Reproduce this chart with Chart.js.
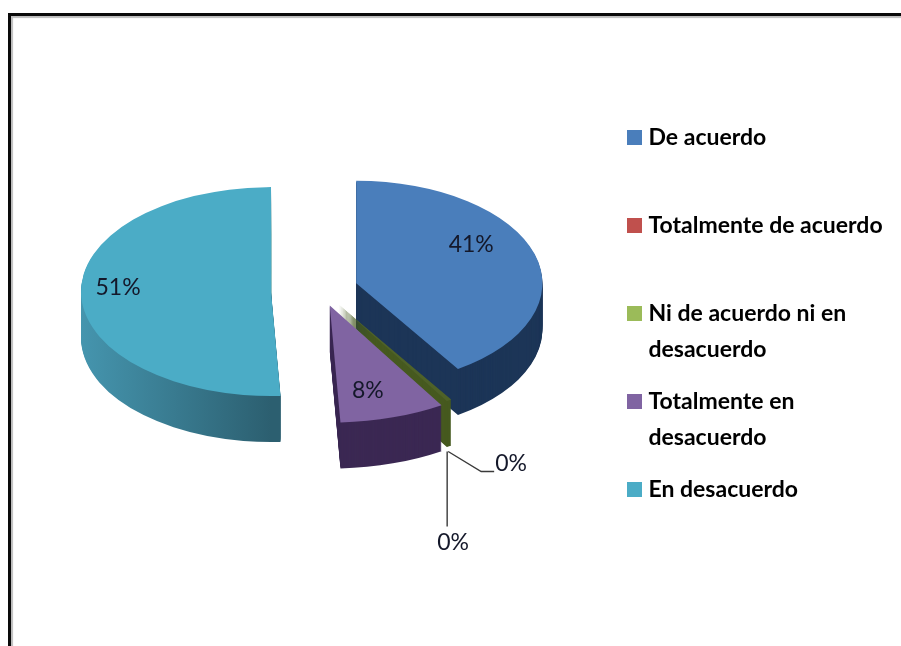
<!DOCTYPE html>
<html><head><meta charset="utf-8">
<script src="https://cdn.jsdelivr.net/npm/chart.js@4"></script>
<style>
html,body{margin:0;padding:0;background:#fff;overflow:hidden}
#wrap{position:relative;width:901px;height:646px;overflow:hidden}
#frame{position:absolute;left:8px;top:13px;width:900px;height:640px;border-left:3px solid #0a0a0a;border-top:3px solid #0a0a0a;box-shadow:inset 2px 2px 1px #bdbdbd}
canvas{position:absolute;left:0;top:0}
</style></head><body>
<div id="wrap"><div id="frame"></div><canvas id="c" width="901" height="646"></canvas></div>
<script>
const categories = ["De acuerdo","Totalmente de acuerdo","Ni de acuerdo ni en desacuerdo","Totalmente en desacuerdo","En desacuerdo"];
const legendLines = [["De acuerdo",""],["Totalmente de acuerdo",""],["Ni de acuerdo ni en","desacuerdo"],["Totalmente en","desacuerdo"],["En desacuerdo",""]];
const shares = [40.8,0,0.4,8,50.8];
const faceColors = ["#4a7ebb","#c0504d","#9bbb59","#8064a2","#4bacc6"];

const CENTER = {x:314,y:291}, K = 0.55, DEPTH = 46, EXPLODE = 43;
const FONT = "Lato, 'Open Sans', sans-serif";
const drawOrder = [4,0,2,3];
const drawnFace = {2:"#4f6228"};
const wallColor = {0:"#1c3557",2:"#46591f",3:"#3b2853"};
const tweak = {0:{dx:1,dy:-1,f:0.98},1:{dx:2,dy:-6,f:1.08},2:{dx:2,dy:-6,f:1.08},3:{dx:3,dy:-8,f:1.12},4:{dx:0,dy:0,f:1}};
const labelAt = {0:[115,-39],3:[38,85],4:[-153,-4]};

function apexOf(arc,i){
  const mid=(arc.startAngle+arc.endAngle)/2, t=tweak[i];
  return {x:CENTER.x+t.dx+Math.cos(mid)*EXPLODE, y:CENTER.y+t.dy+Math.sin(mid)*EXPLODE*K};
}
function place(ctx,arc,i,yShift){
  const a=apexOf(arc,i), f=tweak[i].f;
  ctx.translate(a.x,a.y+yShift);
  ctx.scale(f,f*K);
  ctx.translate(-arc.x,-arc.y);
}
function withFill(arc,fill,fn){
  const saved=arc.options;
  arc.options={offset:0,spacing:0,backgroundColor:fill,borderWidth:0,borderColor:fill,borderAlign:'center',borderRadius:0,borderJoinStyle:'round',circular:true};
  fn(); arc.options=saved;
}
const pie3d = {
  id:'pie3d',
  afterLayout(chart){
    const lg=chart.legend, w=lg.right-lg.left, h=lg.bottom-lg.top;
    lg.left=616; lg.right=616+w; lg.top=110; lg.bottom=110+h;
  },
  beforeDatasetsDraw(chart){
    const ctx=chart.ctx, meta=chart.getDatasetMeta(0);
    drawOrder.forEach(i=>{
      const arc=meta.data[i];
      let wall=wallColor[i];
      if(i===4){
        wall=ctx.createLinearGradient(arc.x-arc.outerRadius,0,arc.x,0);
        wall.addColorStop(0,"#4595ae"); wall.addColorStop(1,"#2c5f70");
      }
      withFill(arc,wall,()=>{
        for(let d=DEPTH;d>=1;d--){ ctx.save(); place(ctx,arc,i,d); arc.draw(ctx); ctx.restore(); }
      });
      withFill(arc,drawnFace[i]||faceColors[i],()=>{
        ctx.save(); place(ctx,arc,i,0); arc.draw(ctx); ctx.restore();
      });
    });
    return false;
  },
  afterDraw(chart){
    const ctx=chart.ctx, meta=chart.getDatasetMeta(0), total=shares.reduce((a,b)=>a+b,0);
    ctx.save();
    ctx.font="23px "+FONT; ctx.textAlign='center'; ctx.textBaseline='middle'; ctx.fillStyle="#14182a";
    Object.keys(labelAt).forEach(k=>{
      const i=+k, a=apexOf(meta.data[i],i);
      ctx.fillText(Math.round(shares[i]/total*100)+"%",a.x+labelAt[k][0],a.y+labelAt[k][1]);
    });
    // leader lines for the two near-zero slices, from the outer bottom corner of the thin slice
    const g=meta.data[2], ap=apexOf(g,2), ang=g.startAngle, R=g.outerRadius*tweak[2].f;
    const baseX=ap.x+Math.cos(ang)*R-4, baseY=ap.y+Math.sin(ang)*R*K+DEPTH+6;
    ctx.strokeStyle="#3a3a3a"; ctx.lineWidth=1.4;
    ctx.beginPath(); ctx.moveTo(baseX,baseY); ctx.lineTo(baseX,baseY+75); ctx.stroke();
    ctx.beginPath(); ctx.moveTo(baseX+1,baseY); ctx.lineTo(baseX+34,baseY+20); ctx.lineTo(baseX+47,baseY+20); ctx.stroke();
    ctx.fillStyle="#14182a";
    ctx.fillText(Math.round(shares[1]/total*100)+"%",baseX+64,baseY+12);
    ctx.fillText(Math.round(shares[2]/total*100)+"%",baseX+6,baseY+91);
    ctx.restore();
  }
};
new Chart(document.getElementById('c'),{
  type:'pie',
  plugins:[pie3d],
  data:{labels:categories,datasets:[{data:shares,backgroundColor:faceColors,borderWidth:0}]},
  options:{
    responsive:false,animation:false,radius:190,
    layout:{padding:0},
    plugins:{
      tooltip:{enabled:false},
      legend:{
        position:'right',align:'start',
        labels:{
          boxWidth:5,boxHeight:5,padding:16,color:"#000",
          font:{family:FONT,size:23,weight:'bold',lineHeight:36/23},
          generateLabels(){
            return legendLines.map((t,i)=>({text:t,fillStyle:faceColors[i],strokeStyle:faceColors[i],lineWidth:10,lineJoin:'miter',hidden:false,index:i}));
          }
        }
      }
    }
  }
});
</script>
</body></html>
